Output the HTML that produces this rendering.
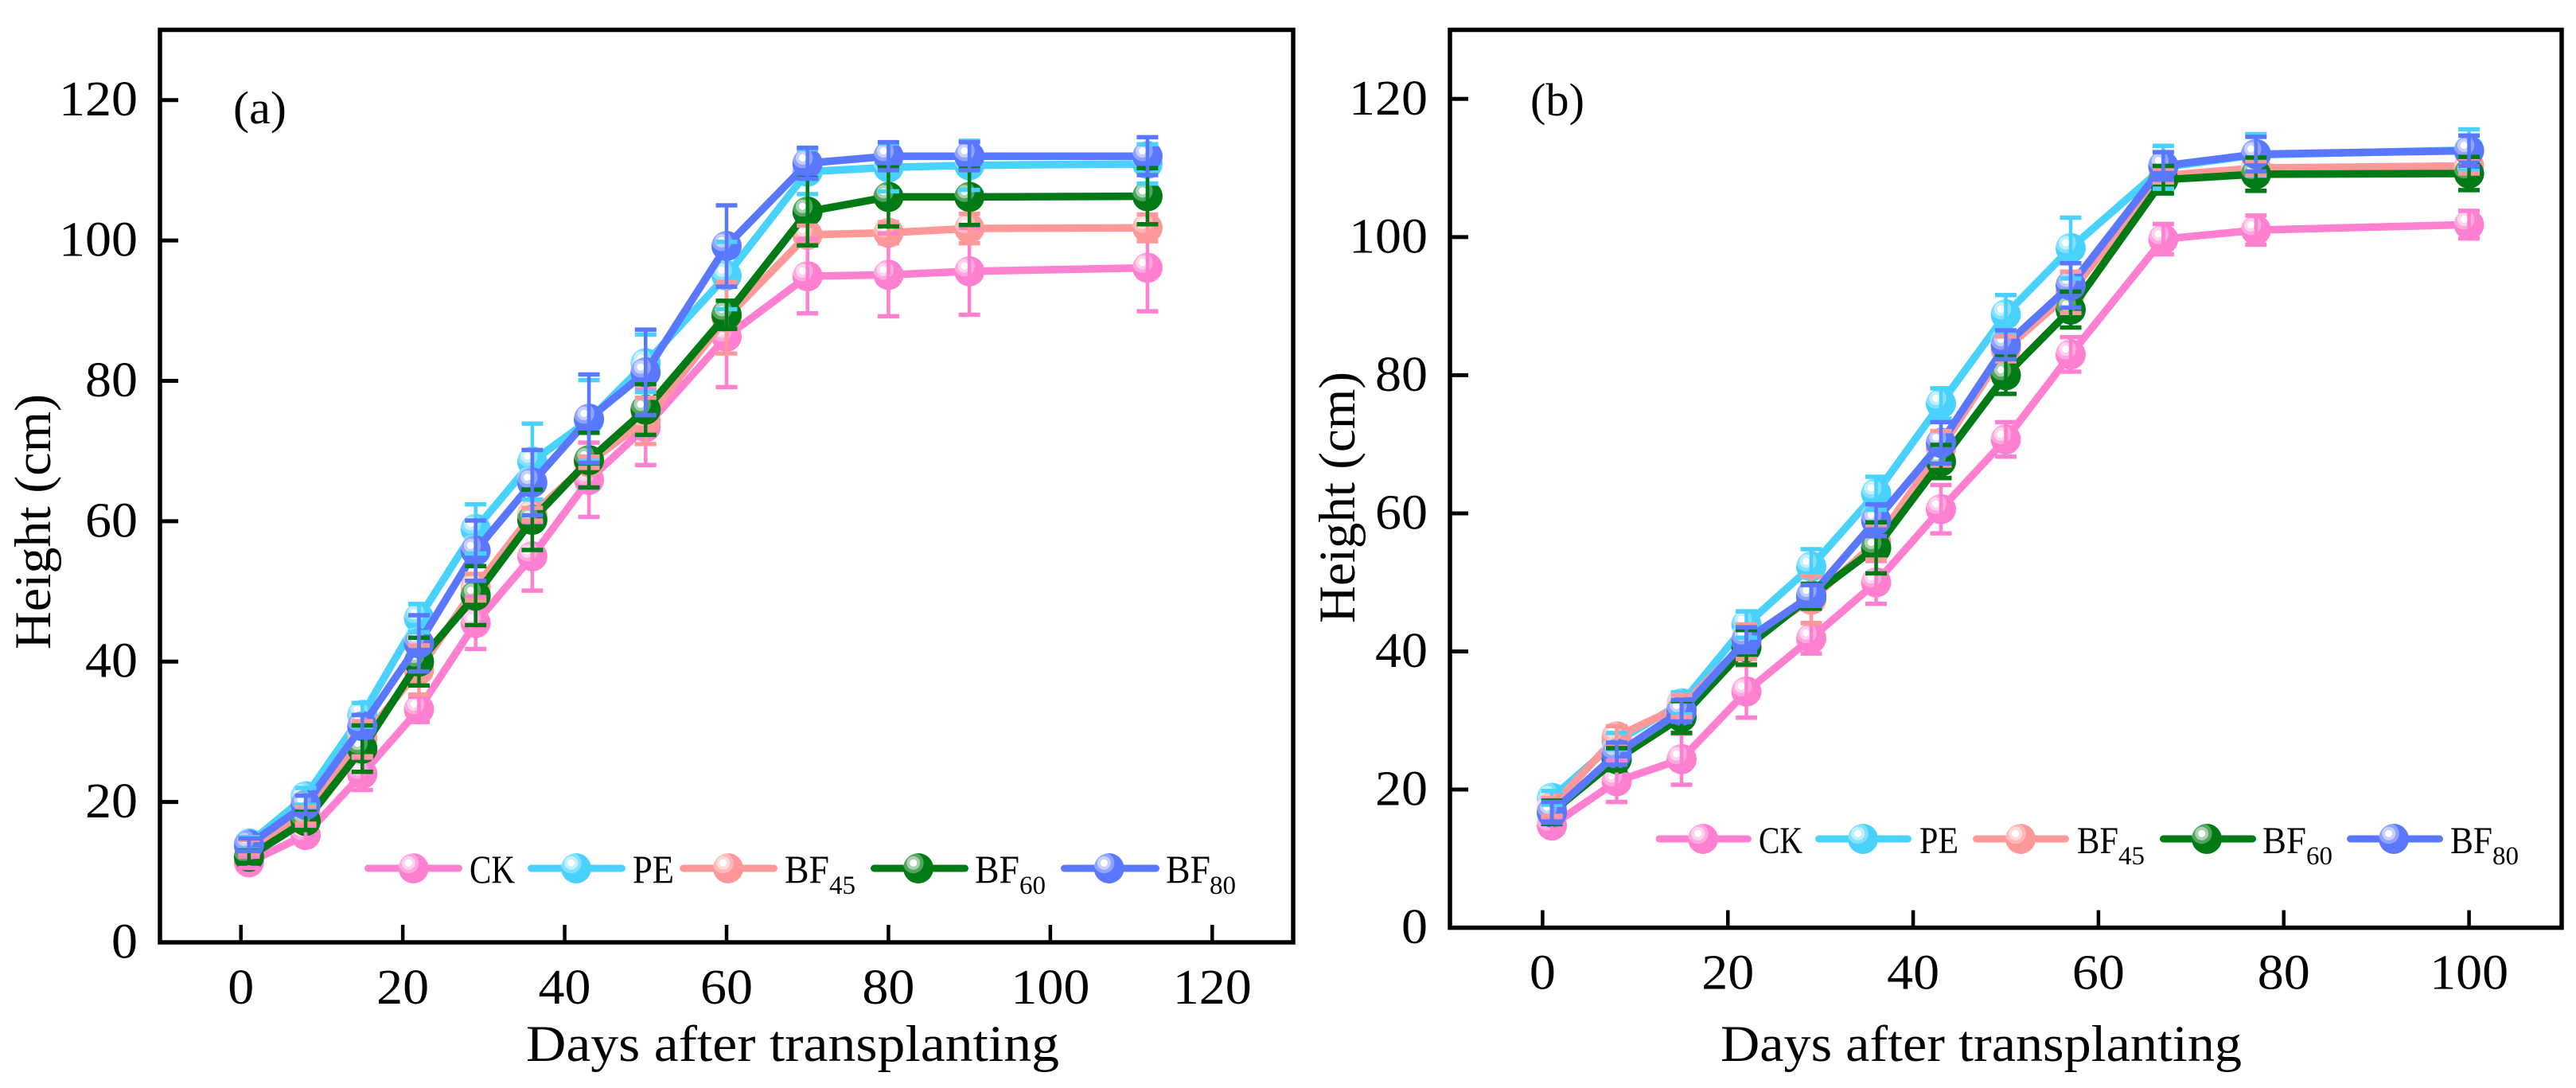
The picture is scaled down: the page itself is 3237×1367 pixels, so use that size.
<!DOCTYPE html>
<html lang="en">
<head>
<meta charset="utf-8">
<title>Height vs days after transplanting</title>
<style>
  html,body{margin:0;padding:0;background:#fff;}
  svg{display:block;}
  text{font-family:"Liberation Serif",serif;fill:#000;}
</style>
</head>
<body>
<svg id="chart" xmlns="http://www.w3.org/2000/svg" width="3237" height="1367" viewBox="0 0 3237 1367">
  <rect x="0" y="0" width="3237" height="1367" fill="#fff"/>
  <g id="panel-a"></g>
  <g id="panel-b"></g>

  <text x="293" y="155" font-size="58" textLength="67" lengthAdjust="spacingAndGlyphs">(a)</text>
  <text x="1923" y="145" font-size="58" textLength="68" lengthAdjust="spacingAndGlyphs">(b)</text>

  <text x="661" y="1333" font-size="65" textLength="670" lengthAdjust="spacingAndGlyphs">Days after transplanting</text>
  <text x="2162" y="1333" font-size="65" textLength="655" lengthAdjust="spacingAndGlyphs">Days after transplanting</text>

  <text transform="translate(63 816) rotate(-90)" font-size="65" textLength="321" lengthAdjust="spacingAndGlyphs">Height (cm)</text>
  <text transform="translate(1702 783) rotate(-90)" font-size="65" textLength="316" lengthAdjust="spacingAndGlyphs">Height (cm)</text>
</svg>

<script>
// ---- shared chart data ----
var seriesNames = ['CK', 'PE', 'BF45', 'BF60', 'BF80'];
var seriesColors = ['#ff80d0', '#4ad2ff', '#ff9999', '#007a15', '#5a78ff'];

// ---- panel (a) ----
var daysA = [1, 8, 15, 22, 29, 36, 43, 50, 60, 70, 80, 90, 112];
var ckA   = [11.4, 15.3, 24, 33.2, 45.5, 55, 65.9, 73.4, 86.3, 94.9, 95.1, 95.6, 96.1];
var peA   = [14.1, 20.8, 32.4, 46.2, 58.9, 68.5, 74.4, 82.5, 95, 109.8, 110.4, 110.7, 110.9];
var bf45A = [13.6, 18.1, 29, 38.8, 50.6, 61, 68.4, 74.3, 89, 100.8, 101.1, 101.7, 101.8];
var bf60A = [12.2, 17.3, 27.6, 40, 49.4, 60.2, 68.7, 75.9, 89.4, 104.1, 106.2, 106.2, 106.3];
var bf80A = [13.9, 19.6, 30.8, 42.6, 55.8, 65.5, 74.6, 81.2, 99.2, 111, 112, 112, 112];
var ckErrA   = [0.8, 1.1, 2.3, 1.8, 3.7, 4.9, 5.3, 5.4, 7.2, 5.3, 5.9, 6.2, 6.2];
var peErrA   = [0.9, 1.2, 1.7, 2, 3.5, 5.4, 5.7, 4.1, 4.8, 3.2, 3.4, 3.5, 2.8];
var bf45ErrA = [1, 1.2, 2.5, 3.5, 1.9, 0.9, 0.8, 3.3, 5.1, 1.3, 1.5, 2.1, 1.9];
var bf60ErrA = [0.9, 1.3, 3.3, 3.4, 4.2, 4.3, 3.9, 3.6, 2, 4.8, 4.2, 4, 4];
var bf80ErrA = [0.9, 1.3, 1.6, 4, 4.3, 4.65, 6.3, 6.1, 5.8, 2.2, 2, 2, 2.7];
var xTicksA = [0, 20, 40, 60, 80, 100, 120];
var yTicksA = [0, 20, 40, 60, 80, 100, 120];

// ---- panel (b) ----
var daysB = [1, 8, 15, 22, 29, 36, 43, 50, 57, 67, 77, 100];
var ckB   = [14.8, 21.2, 24.4, 34.2, 41.9, 50, 60.6, 70.7, 83, 99.7, 101, 101.8];
var peB   = [18.8, 27, 32.5, 43.9, 52.3, 62.9, 75.9, 88.8, 98.4, 110.1, 111.9, 112.6];
var bf45B = [17.5, 27.7, 32.1, 41.4, 47.5, 55.8, 69.4, 83.8, 92, 108.9, 110, 110.3];
var bf60B = [16.7, 24.4, 30.5, 40.6, 48, 55, 67.5, 80, 89.5, 108.3, 109.1, 109.2];
var bf80B = [16.7, 25.2, 31.4, 41.7, 48.1, 59, 70.2, 84.4, 93, 110.3, 112, 112.5];
var ckErrB   = [1.2, 3, 3.7, 3.8, 2.2, 3.1, 3.5, 2.5, 2.5, 2.2, 2.1, 2];
var peErrB   = [1, 1.2, 1.6, 1.9, 2.5, 2.4, 2.2, 2.8, 4.4, 3.1, 3, 3];
var bf45ErrB = [1.3, 1.5, 1.6, 2.5, 3.4, 2.5, 2.5, 1.8, 3, 1, 1, 1.1];
var bf60ErrB = [1.7, 1.6, 2.3, 2.5, 1.8, 3.7, 2.4, 2.7, 2.6, 2, 2.4, 2.4];
var bf80ErrB = [1.5, 1.6, 1.6, 1.8, 1.5, 2.3, 3, 2.1, 3.2, 2, 2.5, 2.2];
var xTicksB = [0, 20, 40, 60, 80, 100];
var yTicksB = [0, 20, 40, 60, 80, 100, 120];

var NS = 'http://www.w3.org/2000/svg';

function mk(parent, tag, props) {
  var el = document.createElementNS(NS, tag);
  for (var k in props) { el.setAttribute(k, props[k]); }
  parent.appendChild(el);
  return el;
}

function drawMarker(parent, cx, cy, color) {
  var g = mk(parent, 'g', {});
  
  
  mk(g, 'circle', {cx: cx, cy: cy, r: 19, fill: color});
  mk(g, 'circle', {cx: cx - 6.3, cy: cy - 6.7, r: 13, fill: '#fff', 'fill-opacity': 0.32});
  mk(g, 'circle', {cx: cx - 6.3, cy: cy - 6.7, r: 8.5, fill: '#fff', 'fill-opacity': 0.5});
  mk(g, 'circle', {cx: cx - 6.3, cy: cy - 6.7, r: 4.5, fill: '#fff', 'fill-opacity': 1});
}

function drawPanel(root, p, days, values, errors, xTicks, yTicks) {
  function xScale(v) { return p.x0 + (v - p.xMin) * (p.x1 - p.x0) / (p.xMax - p.xMin); }
  function yScale(v) { return p.y0 - (v - p.yMin) * (p.y0 - p.y1) / (p.yMax - p.yMin); }

  var i, s;

  // series lines and markers
  for (s = 0; s < values.length; s++) {
    var sg = mk(root, 'g', {});
    
    
    var pts = [];
    for (i = 0; i < days.length; i++) { pts.push(xScale(days[i]) + ',' + yScale(values[s][i])); }
    var line = mk(sg, 'polyline', {points: pts.join(' '), fill: 'none', stroke: seriesColors[s], 'stroke-width': 9.5, 'stroke-linejoin': 'miter'});
    
    
    for (i = 0; i < days.length; i++) {
      drawMarker(sg, xScale(days[i]), yScale(values[s][i]), seriesColors[s]);
    }
  }

  // error bars above all markers
  for (s = 0; s < values.length; s++) {
    var eg = mk(root, 'g', {});
    
    
    for (i = 0; i < days.length; i++) {
      var ex = xScale(days[i]);
      var top = yScale(values[s][i] + errors[s][i]);
      var bot = yScale(values[s][i] - errors[s][i]);
      var attrs = {stroke: seriesColors[s], fill: 'none'};
      var stem = mk(eg, 'line', {x1: ex, x2: ex, y1: top, y2: bot, stroke: seriesColors[s], 'stroke-width': 4.5});
      
      
      var capT = mk(eg, 'line', {x1: ex - 13.5, x2: ex + 13.5, y1: top, y2: top, stroke: attrs.stroke, 'stroke-width': 5.5});
      
      
      var capB = mk(eg, 'line', {x1: ex - 13.5, x2: ex + 13.5, y1: bot, y2: bot, stroke: attrs.stroke, 'stroke-width': 5.5});
      
      
    }
  }

  // frame
  var frame = mk(root, 'rect', {x: p.x0, y: p.y1, width: p.x1 - p.x0, height: p.y0 - p.y1, fill: 'none', stroke: '#000', 'stroke-width': 5.5});
  
  

  // x ticks
  var xg = mk(root, 'g', {});
  
  
  for (i = 0; i < xTicks.length; i++) {
    var tx = xScale(xTicks[i]);
    var xt = mk(xg, 'line', {x1: tx, x2: tx, y1: p.y0, y2: p.y0 - 22, stroke: '#000', 'stroke-width': 4.5});
    
    
    var xl = mk(xg, 'text', {x: tx, y: p.y0 + 77, 'font-size': 62, 'text-anchor': 'middle', textLength: String(xTicks[i]).length * 33, lengthAdjust: 'spacingAndGlyphs'});
    
    
    xl.textContent = String(xTicks[i]);
  }

  // y ticks
  var yg = mk(root, 'g', {});
  
  
  for (i = 0; i < yTicks.length; i++) {
    var ty = yScale(yTicks[i]);
    if (yTicks[i] !== 0) {
      var yt = mk(yg, 'line', {x1: p.x0, x2: p.x0 + 23, y1: ty, y2: ty, stroke: '#000', 'stroke-width': 5});
      
      
    }
    var yl = mk(yg, 'text', {x: p.labelRight, y: ty + 19.5, 'font-size': 62, 'text-anchor': 'end', textLength: String(yTicks[i]).length * 33, lengthAdjust: 'spacingAndGlyphs'});
    
    
    yl.textContent = String(yTicks[i]);
  }
}

function drawLegendEntry(root, s, ly, x0, x1, mx, tx, tw, fs, sub, sx) {
  var g = mk(root, 'g', {});
  
  
  mk(g, 'line', {x1: x0 + 4.5, x2: x1 - 4.5, y1: ly, y2: ly, stroke: seriesColors[s], 'stroke-width': 9, 'stroke-linecap': 'round'});
  drawMarker(g, mx, ly, seriesColors[s]);
  var t = mk(g, 'text', {x: tx, y: ly + 18, 'font-size': fs, textLength: tw, lengthAdjust: 'spacingAndGlyphs'});
  
  
  t.textContent = sub ? seriesNames[s].slice(0, 2) : seriesNames[s];
  if (sub) {
    var st = mk(g, 'text', {x: sx, y: ly + 32, 'font-size': 33, textLength: 33, lengthAdjust: 'spacingAndGlyphs'});
    
    
    st.textContent = sub;
  }
}

var panelA = document.getElementById('panel-a');
var panelB = document.getElementById('panel-b');

drawPanel(panelA,
  {x0: 201, x1: 1625, y0: 1184, y1: 37.5, xMin: -10, xMax: 130, yMin: 0, yMax: 130, labelRight: 173},
  daysA, [ckA, peA, bf45A, bf60A, bf80A], [ckErrA, peErrA, bf45ErrA, bf60ErrA, bf80ErrA], xTicksA, yTicksA);

drawPanel(panelB,
  {x0: 1822, x1: 3219, y0: 1165.6, y1: 37.5, xMin: -10, xMax: 110, yMin: 0, yMax: 130, labelRight: 1794},
  daysB, [ckB, peB, bf45B, bf60B, bf80B], [ckErrB, peErrB, bf45ErrB, bf60ErrB, bf80ErrB], xTicksB, yTicksB);

drawLegendEntry(panelA, 0, 1091, 458, 581, 519.6, 590, 57, 50, '', 0);
drawLegendEntry(panelA, 1, 1091, 663, 786, 724, 795, 52, 50, '', 0);
drawLegendEntry(panelA, 2, 1091, 854, 977, 915, 986, 56, 50, '45', 1042);
drawLegendEntry(panelA, 3, 1091, 1094, 1217, 1154, 1225, 56, 50, '60', 1281);
drawLegendEntry(panelA, 4, 1091, 1333, 1457, 1393.6, 1465, 56, 50, '80', 1520);

drawLegendEntry(panelB, 0, 1054, 2080.6, 2201, 2140, 2210, 55, 48, '', 0);
drawLegendEntry(panelB, 1, 1054, 2281, 2402, 2341, 2412, 49, 48, '', 0);
drawLegendEntry(panelB, 2, 1054, 2479, 2600, 2539, 2610, 52, 48, '45', 2662);
drawLegendEntry(panelB, 3, 1054, 2714, 2835, 2773, 2843, 55, 48, '60', 2898);
drawLegendEntry(panelB, 4, 1054, 2949, 3070, 3008, 3079, 53, 48, '80', 3132);
</script>
</body>
</html>
